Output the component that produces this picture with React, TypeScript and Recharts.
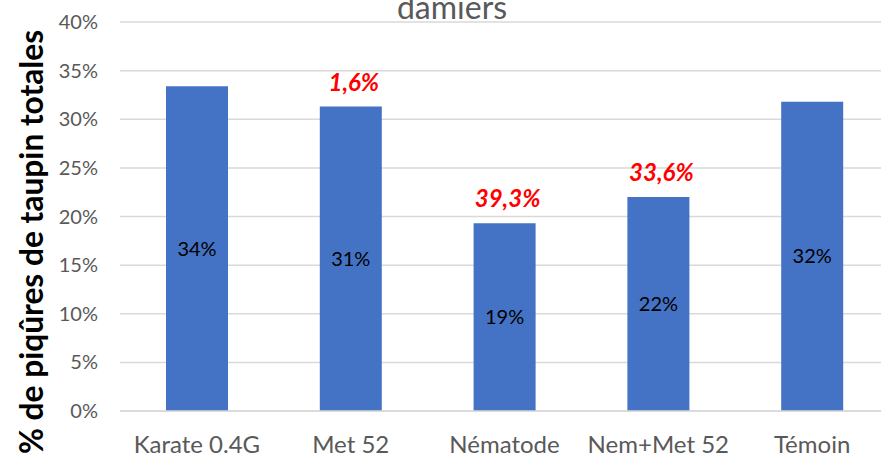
import React from "react";
import { BarChart, Bar, XAxis, YAxis, CartesianGrid, LabelList, Customized } from "recharts";

const categories = ["Karate 0.4G", "Met 52", "Nématode", "Nem+Met 52", "Témoin"];
const values = [0.334, 0.313, 0.193, 0.22, 0.318];
const valueLabels = ["34%", "31%", "19%", "22%", "32%"];
const reductions = ["", "1,6%", "39,3%", "33,6%", ""];
const yTicks = [0, 0.05, 0.1, 0.15, 0.2, 0.25, 0.3, 0.35, 0.4];

const data = categories.map((c, i) => ({
  name: c,
  value: values[i],
  label: valueLabels[i],
  reduction: reductions[i],
}));

const FONT = "Lato, 'Open Sans', sans-serif";

const RedLabel = (props: any) => {
  const { x, y, width, value } = props;
  if (!value) return null;
  return (
    <text
      x={x + width / 2 + 3}
      y={y - 16}
      textAnchor="middle"
      fill="#FF0000"
      fontSize={24}
      fontWeight="bold"
      fontStyle="italic"
      fontFamily={FONT}
    >
      {value}
    </text>
  );
};

const Extras = () => (
  <g>
    <text x={452} y={19} textAnchor="middle" fill="#595959" fontSize={32} fontFamily={FONT}>
      damiers
    </text>
    <text
      transform="translate(43, 242) rotate(-90)"
      textAnchor="middle"
      fill="#000000"
      fontSize={31.7}
      fontWeight="bold"
      fontFamily={FONT}
    >
      % de piqûres de taupin totales
    </text>
  </g>
);

export default function App() {
  return (
    <div style={{ position: "fixed", left: 0, top: 0, width: 881, height: 457, overflow: "hidden", background: "#fff" }}>
      <BarChart
        width={900}
        height={457}
        data={data}
        margin={{ top: 22, right: 11, bottom: 0, left: 0 }}
      >
        <CartesianGrid vertical={false} stroke="#D9D9D9" strokeWidth={1.5} />
        <XAxis
          dataKey="name"
          height={46}
          tickLine={false}
          axisLine={{ stroke: "#D9D9D9", strokeWidth: 1.5 }}
          tickSize={0}
          tickMargin={25}
          tick={{ fill: "#595959", fontSize: 24, fontFamily: FONT }}
          interval={0}
        />
        <YAxis
          width={120}
          domain={[0, 0.4]}
          ticks={yTicks}
          tickFormatter={(v: number) => `${Math.round(v * 100)}%`}
          tickLine={false}
          axisLine={false}
          tickSize={0}
          tickMargin={22}
          tick={{ fill: "#595959", fontSize: 20, fontFamily: FONT }}
          interval={0}
        />
        <Bar dataKey="value" fill="#4472C4" barSize={62} isAnimationActive={false}>
          <LabelList dataKey="label" position="center" fill="#000000" fontSize={20} fontFamily={FONT} />
          <LabelList dataKey="reduction" content={RedLabel} />
        </Bar>
        <Customized component={Extras} />
      </BarChart>
    </div>
  );
}
